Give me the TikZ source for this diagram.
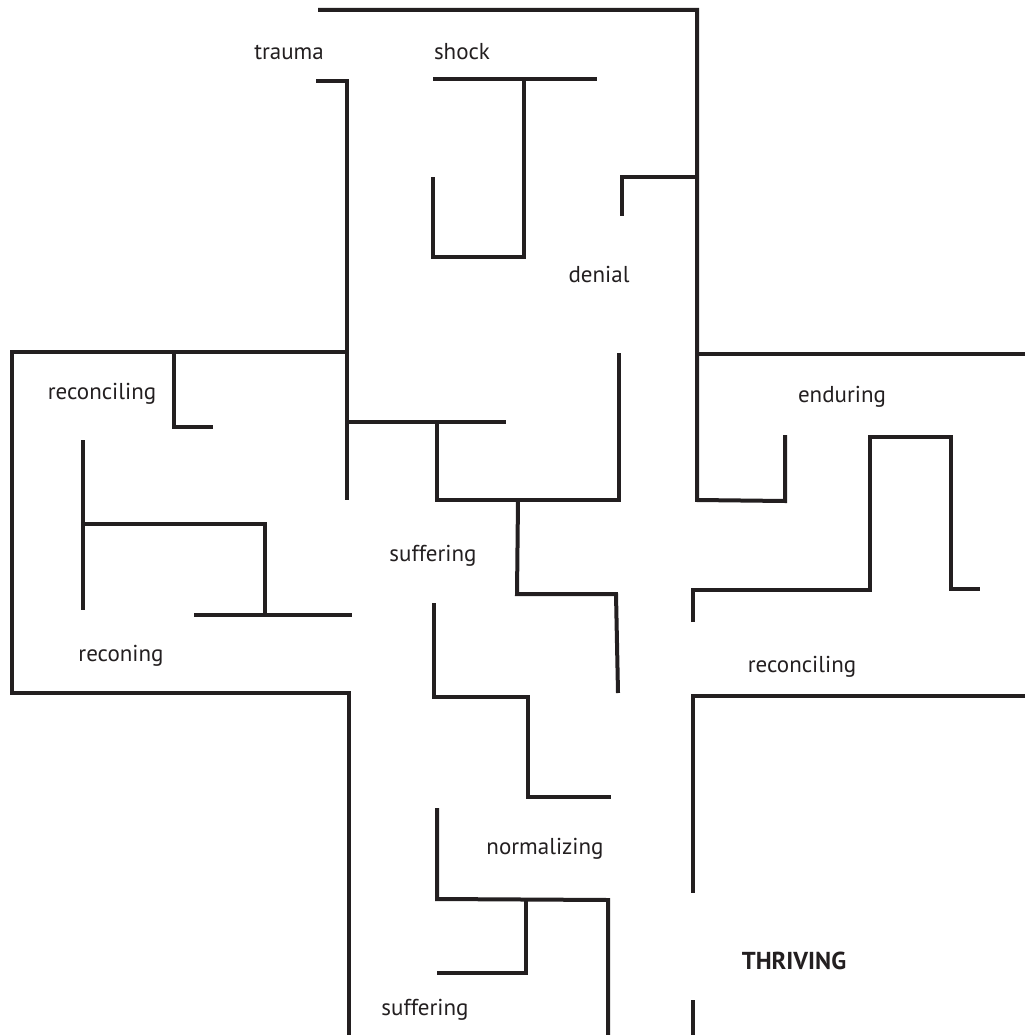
\documentclass[tikz,border=0pt]{standalone}
\usepackage{fontspec}
\setmainfont{PT Sans}
\definecolor{ink}{HTML}{231F20}
\tikzset{
  wall/.style={draw=ink, line width=4pt, line join=miter, line cap=butt},
  lbl/.style={text=ink, anchor=base, inner sep=0pt, font=\fontsize{23}{27}\selectfont},
  lblbold/.style={lbl, font=\fontsize{24.5}{28}\selectfont\bfseries}
}
\begin{document}
\begin{tikzpicture}[x=1pt, y=-1pt]
\useasboundingbox (0,0) rectangle (1025,1035);
% top / right arm
\draw[wall] (318,10) -- (697,10) -- (697,500) -- (785,501) -- (785,435);
\draw[wall] (697,177) -- (622,177) -- (622,216);
\draw[wall] (697,354) -- (1025,354);
% shock
\draw[wall] (433,79) -- (597,79);
\draw[wall] (524,79) -- (524,257) -- (433,257) -- (433,177);
% trauma wall and left arm
\draw[wall] (316,81) -- (347,81) -- (347,500);
\draw[wall] (347,352) -- (12,352) -- (12,693) -- (349,693) -- (349,1035);
\draw[wall] (174,352) -- (174,427) -- (213,427);
\draw[wall] (83,440) -- (83,610);
\draw[wall] (83,524) -- (265,524) -- (265,615);
\draw[wall] (194,615) -- (352,615);
% centre
\draw[wall] (347,422) -- (506,422);
\draw[wall] (437,422) -- (437,500) -- (619,500) -- (619,353);
\draw[wall] (518,500) -- (517,594) -- (616,594) -- (618,693);
\draw[wall] (434,603) -- (434,697) -- (528,697) -- (528,797) -- (611,797);
% enduring
\draw[wall] (693,622) -- (693,590) -- (870,590) -- (870,437) -- (951,437) -- (951,589) -- (980,589);
% right lower
\draw[wall] (1025,696) -- (693,696) -- (693,893);
\draw[wall] (693,1000) -- (693,1035);
% bottom
\draw[wall] (437,808) -- (437,899) -- (608,900) -- (608,1035);
\draw[wall] (526,900) -- (526,973) -- (437,973);
% labels
\node[lbl] (trauma) at (289,60) {trauma};
\node[lbl] (shock) at (462,60) {shock};
\node[lbl] (denial) at (599,282) {denial};
\node[lbl] (recL) at (102,399) {reconciling};
\node[lbl] (endur) at (842,402) {enduring};
\node[lbl] (suf1) at (433,561) {suffering};
\node[lbl] (recon) at (121,661) {reconing};
\node[lbl] (recR) at (802,672) {reconciling};
\node[lbl] (norm) at (545,854) {normalizing};
\node[lblbold] (thr) at (794,969) {THRIVING};
\node[lbl] (suf2) at (425,1015) {suffering};
\end{tikzpicture}
\end{document}
